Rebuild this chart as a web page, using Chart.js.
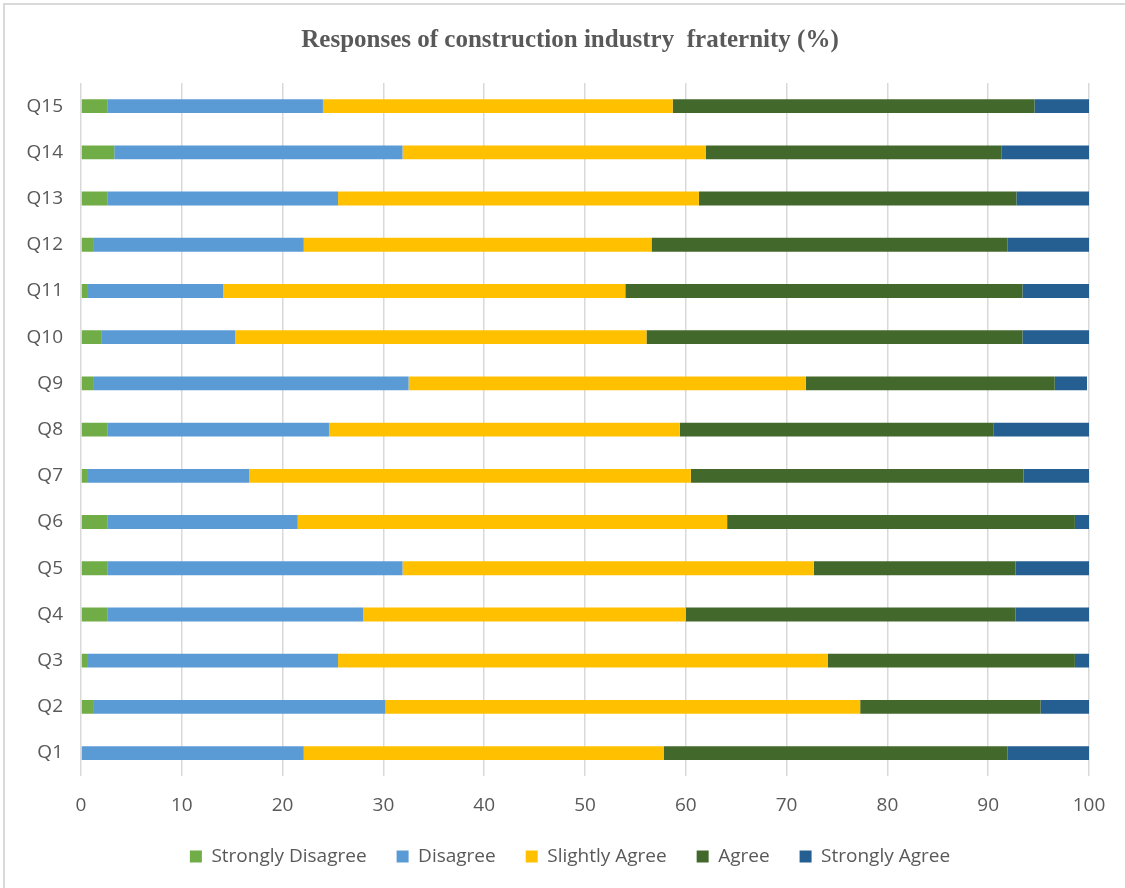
<!DOCTYPE html>
<html>
<head>
<meta charset="utf-8">
<script src="https://cdn.jsdelivr.net/npm/chart.js@4/dist/chart.umd.min.js"></script>
<style>
  html, body { margin: 0; padding: 0; background: #ffffff; overflow: hidden; width: 1125px; height: 888px; }
  #frame { position: absolute; left: 3px; top: 3px; width: 1200px; height: 1000px;
           border-top: 2px solid #d9d9d9; border-left: 2px solid #d9d9d9; z-index: 0; }
  #c { position: absolute; left: 0; top: 0; z-index: 1; }
</style>
</head>
<body>
<div id="frame"></div>
<canvas id="c" width="1140" height="888"></canvas>
<script>
const categories = ['Q1','Q2','Q3','Q4','Q5','Q6','Q7','Q8','Q9','Q10','Q11','Q12','Q13','Q14','Q15'];
const seriesNames = ['Strongly Disagree','Disagree','Slightly Agree','Agree','Strongly Agree'];
const stronglyDisagree = [0.0, 1.2, 0.6, 2.6, 2.6, 2.6, 0.6, 2.6, 1.2, 2.0, 0.6, 1.2, 2.6, 3.3, 2.6];
const disagree         = [22.1, 29.0, 24.9, 25.4, 29.3, 18.9, 16.1, 22.0, 31.3, 13.3, 13.5, 20.9, 22.9, 28.6, 21.4];
const slightlyAgree    = [35.7, 47.1, 48.6, 32.0, 40.8, 42.6, 43.8, 34.8, 39.4, 40.8, 39.9, 34.5, 35.8, 30.1, 34.7];
const agree            = [34.1, 17.9, 24.5, 32.7, 20.0, 34.5, 33.0, 31.1, 24.7, 37.3, 39.4, 35.3, 31.5, 29.3, 35.9];
const stronglyAgree    = [8.1, 4.8, 1.4, 7.3, 7.3, 1.4, 6.5, 9.5, 3.2, 6.6, 6.6, 8.1, 7.2, 8.7, 5.4];
const xTickValues = [0,10,20,30,40,50,60,70,80,90,100];
const titleText = 'Responses of construction industry  fraternity (%)';

const colors = ['#70AD47','#5B9BD5','#FFC000','#43682B','#255E91'];
const values = [stronglyDisagree, disagree, slightlyAgree, agree, stronglyAgree];

const FONT = "'Open Sans', sans-serif";
const GREY = '#595959';

new Chart(document.getElementById('c'), {
  type: 'bar',
  data: {
    labels: categories,
    datasets: values.map((v, i) => ({
      label: seriesNames[i],
      data: v,
      backgroundColor: colors[i],
      borderWidth: 0,
      barPercentage: 0.3,
      categoryPercentage: 1.0
    }))
  },
  options: {
    indexAxis: 'y',
    responsive: false,
    animation: false,
    devicePixelRatio: 1,
    layout: { padding: { left: 0, right: 0, top: 0, bottom: 12 } },
    scales: {
      x: {
        stacked: true,
        min: 0, max: 100,
        afterBuildTicks: s => { s.ticks = xTickValues.map(v => ({ value: v })); },
        grid: { color: '#d9d9d9', lineWidth: 1.5, drawTicks: false },
        border: { display: false },
        ticks: { color: GREY, font: { family: FONT, size: 19 }, padding: 18 },
        afterFit: s => { s.height = 40.8; }
      },
      y: {
        stacked: true,
        reverse: true,
        grid: { display: false, drawTicks: false },
        border: { display: false },
        ticks: { color: GREY, font: { family: FONT, size: 19 }, padding: 18 },
        afterFit: s => { s.width = 81; }
      },
      y2: {
        type: 'category',
        position: 'right',
        labels: categories,
        grid: { display: false, drawTicks: false },
        border: { display: false },
        ticks: { display: false },
        afterFit: s => { s.width = 51; }
      }
    },
    plugins: {
      title: {
        display: true,
        text: titleText,
        color: GREY,
        font: { family: "'Liberation Serif', serif", size: 25, weight: 'bold' },
        padding: { top: 25.6, bottom: 27.4 }
      },
      legend: {
        position: 'bottom',
        labels: {
          color: GREY,
          font: { family: FONT, size: 19 },
          boxWidth: 12, boxHeight: 12,
          padding: 30
        }
      },
      tooltip: { enabled: false }
    }
  }
});
</script>
</body>
</html>
